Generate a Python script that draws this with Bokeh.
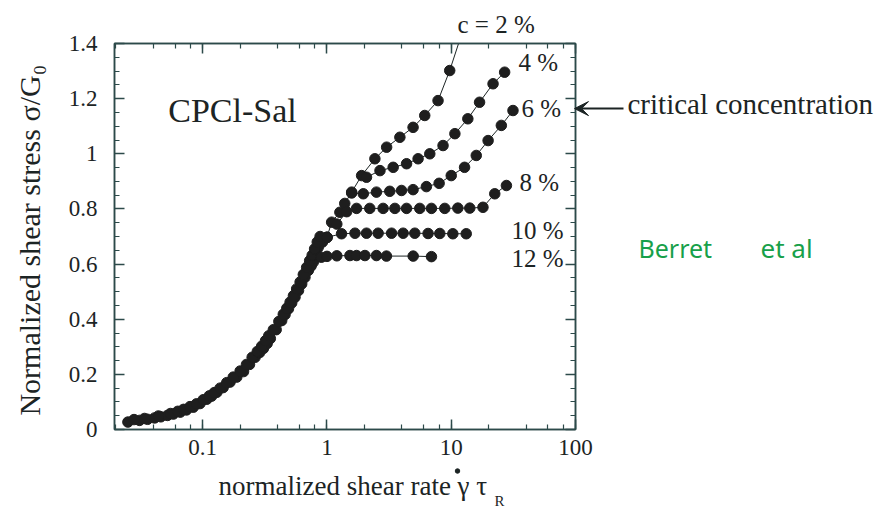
from bokeh.plotting import figure
from bokeh.models import (Label, Arrow, VeeHead, LinearAxis, LogAxis, Range1d, Title,
                          SingleIntervalTicker, LogTicker, CustomJSTickFormatter)
from bokeh.layouts import column, row
from bokeh.embed import file_html
from bokeh.resources import INLINE

# ---- data ----
master_x = [0.025, 0.031, 0.036, 0.041, 0.046, 0.052, 0.058, 0.066, 0.074, 0.084,
            0.095, 0.108, 0.118, 0.130, 0.146, 0.166, 0.188, 0.213, 0.238, 0.264,
            0.287, 0.308, 0.330, 0.350, 0.390, 0.432, 0.460, 0.490, 0.520, 0.553,
            0.590, 0.626, 0.665, 0.708, 0.745, 0.776, 0.815, 0.851, 0.920, 1.000]
master_y = [0.027, 0.033, 0.037, 0.042, 0.046, 0.051, 0.056, 0.063, 0.071, 0.081,
            0.094, 0.110, 0.121, 0.135, 0.152, 0.172, 0.190, 0.210, 0.236, 0.262,
            0.279, 0.294, 0.312, 0.330, 0.362, 0.395, 0.417, 0.438, 0.459, 0.480,
            0.504, 0.528, 0.552, 0.577, 0.593, 0.607, 0.634, 0.661, 0.680, 0.697]

master2_x = [0.028, 0.034, 0.044, 0.055, 0.063, 0.070, 0.079, 0.089, 0.101, 0.113,
             0.124, 0.138, 0.156, 0.176, 0.200, 0.225, 0.250, 0.275, 0.298, 0.320,
             0.340, 0.370, 0.410, 0.445, 0.475, 0.505, 0.537, 0.570, 0.608, 0.645,
             0.686, 0.725, 0.760, 0.795, 0.835, 0.880]
master2_y = [0.036, 0.040, 0.049, 0.058, 0.066, 0.073, 0.083, 0.093, 0.108, 0.122,
             0.134, 0.150, 0.170, 0.190, 0.212, 0.236, 0.262, 0.283, 0.302, 0.322,
             0.340, 0.362, 0.392, 0.418, 0.440, 0.462, 0.485, 0.510, 0.535, 0.562,
             0.588, 0.612, 0.632, 0.655, 0.680, 0.700]

c2_x = [1.00, 1.09, 1.27, 1.39, 1.58, 1.90, 2.43, 3.02, 3.86, 4.93, 6.12, 7.83, 9.72, 14.0]
c2_y = [0.697, 0.752, 0.788, 0.820, 0.861, 0.921, 0.982, 1.024, 1.060, 1.096, 1.139, 1.193, 1.302, 1.52]

c4_x = [2.08, 2.67, 3.41, 4.37, 5.41, 6.72, 8.59, 10.7, 13.6, 16.9, 21.7, 26.9]
c4_y = [0.915, 0.939, 0.951, 0.964, 0.982, 1.000, 1.030, 1.073, 1.127, 1.187, 1.254, 1.296]

c6_x = [1.58, 1.96, 2.50, 3.20, 3.98, 4.93, 6.31, 7.99, 10.0, 12.8, 15.9, 19.8, 25.3, 31.4]
c6_y = [0.858, 0.855, 0.861, 0.864, 0.867, 0.870, 0.881, 0.893, 0.921, 0.951, 0.994, 1.048, 1.103, 1.157]

c8_x = [1.20, 1.44, 1.73, 2.21, 2.83, 3.52, 4.37, 5.58, 6.93, 8.87, 11.3, 14.1, 18.0, 22.4, 27.8]
c8_y = [0.745, 0.790, 0.802, 0.802, 0.802, 0.802, 0.802, 0.802, 0.802, 0.802, 0.803, 0.803, 0.806, 0.855, 0.885]

c10_x = [1.00, 1.31, 1.68, 2.08, 2.58, 3.31, 4.10, 5.09, 6.51, 8.09, 10.3, 13.2]
c10_y = [0.697, 0.710, 0.712, 0.712, 0.712, 0.712, 0.712, 0.712, 0.711, 0.711, 0.710, 0.710]

c12_x = [0.90, 1.00, 1.20, 1.53, 1.73, 2.02, 2.50, 3.01, 4.94, 6.93]
c12_y = [0.625, 0.628, 0.630, 0.631, 0.631, 0.631, 0.631, 0.629, 0.629, 0.627]

series_labels = ["4 %", "6 %", "8 %", "10 %", "12 %"]
series_label_x = [34.8, 36.8, 35.5, 30.6, 30.6]
series_label_y = [1.331, 1.164, 0.896, 0.722, 0.620]
top_label = "c = 2 %"
critical_y = 1.164

y_ticks_major = 0.2
x_range = (0.0195, 100)
y_range = (0.0, 1.4001)

# ---- styles / layout ----
INK = "#1c2424"
DOT = "#1e1e1e"
FRAME = "#2c4a4a"
GREEN = "#17a04a"
SERIF = "Liberation Serif"
W_MAIN, W_SIDE, OVERLAP = 596, 324, 26
H_MAIN, H_BOTTOM = 466, 43

p = figure(width=W_MAIN, height=H_MAIN, x_axis_type="log",
           x_range=Range1d(*x_range), y_range=Range1d(*y_range),
           output_backend="svg", toolbar_location=None,
           min_border_left=114, min_border_right=21,
           min_border_top=43, min_border_bottom=37,
           background_fill_color="white", border_fill_color="white")
p.grid.visible = False
p.outline_line_color = FRAME
p.outline_line_width = 1.5

yt = SingleIntervalTicker(interval=y_ticks_major, num_minor_ticks=4)
xt = LogTicker()
yfmt = CustomJSTickFormatter(code="return (Math.round(tick*10)/10).toString();")
xfmt = CustomJSTickFormatter(code="return (+tick.toPrecision(3)).toString();")
blank = CustomJSTickFormatter(code="return '';")

def style_axis(ax):
    ax.axis_line_color = FRAME
    ax.axis_line_width = 1.5
    ax.major_tick_line_color = FRAME
    ax.minor_tick_line_color = FRAME
    ax.major_tick_line_width = 1.5
    ax.minor_tick_line_width = 1.2
    ax.major_tick_in = 10
    ax.major_tick_out = 0
    ax.minor_tick_in = 5
    ax.minor_tick_out = 0
    ax.major_label_text_font = SERIF
    ax.major_label_text_color = INK
    ax.major_label_text_font_size = "23px"
    ax.axis_label_text_font = SERIF
    ax.axis_label_text_color = INK
    ax.axis_label_text_font_style = "normal"

p.yaxis.ticker = yt
p.yaxis.formatter = yfmt
p.xaxis.ticker = xt
p.xaxis.formatter = xfmt
for ax in p.xaxis + p.yaxis:
    style_axis(ax)
p.yaxis.major_label_standoff = 17
p.yaxis.axis_label = "Normalized shear stress  \u03c3/G\u2080"
p.yaxis.axis_label_text_font_size = "30px"
p.yaxis.axis_label_standoff = 20
p.xaxis.major_label_standoff = 10

top = LogAxis(ticker=xt, formatter=blank, major_label_standoff=0)
right = LinearAxis(ticker=yt, formatter=blank, major_label_standoff=0)
style_axis(top)
style_axis(right)
top.major_label_text_font_size = "1px"
right.major_label_text_font_size = "1px"
p.add_layout(top, "above")
p.add_layout(right, "right")

p.title = Title(text=top_label, align="left", offset=343, standoff=11,
                text_font=SERIF, text_font_size="25px", text_color=INK,
                text_font_style="normal")

# ---- data marks ----
p.scatter(master_x, master_y, size=10.5, color=DOT)
p.scatter(master2_x, master2_y, size=10.5, color=DOT)
for xs, ys in [(c2_x, c2_y), (c4_x, c4_y), (c6_x, c6_y), (c8_x, c8_y), (c10_x, c10_y), (c12_x, c12_y)]:
    p.line(xs, ys, line_color=INK, line_width=1)
    p.scatter(xs, ys, size=10.5, color=DOT)

for t, x, y in zip(series_labels, series_label_x, series_label_y):
    p.add_layout(Label(x=x, y=y, text=t, text_font=SERIF, text_font_size="25px",
                       text_color=INK, text_baseline="middle", text_align="left"))
p.add_layout(Label(x=0.0528, y=1.157, text="CPCl-Sal", text_font=SERIF,
                   text_font_size="34px", text_color=INK, text_baseline="middle"))

# ---- right strip (transparent, slightly overlapping the main plot's border) ----
x0_side = W_MAIN - OVERLAP
p2 = figure(width=W_SIDE, height=H_MAIN, x_range=Range1d(x0_side, x0_side + W_SIDE),
            y_range=p.y_range, output_backend="svg", toolbar_location=None,
            x_axis_location=None, y_axis_location=None,
            min_border_left=0, min_border_right=0, min_border_top=43, min_border_bottom=37,
            outline_line_color=None, background_fill_color=None, border_fill_color=None,
            margin=(0, 0, 0, -OVERLAP))
p2.grid.visible = False
p2.add_layout(Arrow(x_start=623, y_start=critical_y, x_end=574, y_end=critical_y,
                    line_color=INK, line_width=2,
                    end=VeeHead(size=14, fill_color=INK, line_color=INK)))
p2.add_layout(Label(x=627, y=critical_y + 0.018, text="critical concentration", text_font=SERIF,
                    text_font_size="29px", text_color=INK, text_baseline="middle"))
p2.add_layout(Label(x=638, y=0.657, text="Berret", text_font="Noto Sans",
                    text_font_size="25px", text_color=GREEN, text_baseline="middle"))
p2.add_layout(Label(x=760, y=0.657, text="et al", text_font="Noto Sans",
                    text_font_size="26px", text_color=GREEN, text_baseline="middle"))

# ---- bottom strip: x-axis title ----
W_ALL = W_MAIN + W_SIDE - OVERLAP
p3 = figure(width=W_ALL, height=H_BOTTOM, x_range=Range1d(0, W_ALL),
            y_range=Range1d(H_BOTTOM, 0), output_backend="svg", toolbar_location=None,
            x_axis_location=None, y_axis_location=None, min_border=0,
            outline_line_color=None, background_fill_color="white", border_fill_color="white")
p3.grid.visible = False
p3.add_layout(Label(x=218, y=19, text="normalized shear rate \u03b3 \u03c4", text_font=SERIF,
                    text_font_size="27px", text_color=INK, text_baseline="middle"))
p3.scatter([457], [4.5], size=4.5, color=INK)   # dot over gamma
p3.add_layout(Label(x=494, y=34, text="R", text_font=SERIF,
                    text_font_size="15px", text_color=INK, text_baseline="middle"))

layout = column(row(p, p2), p3)
open("out.html", "w").write(file_html(layout, INLINE))
